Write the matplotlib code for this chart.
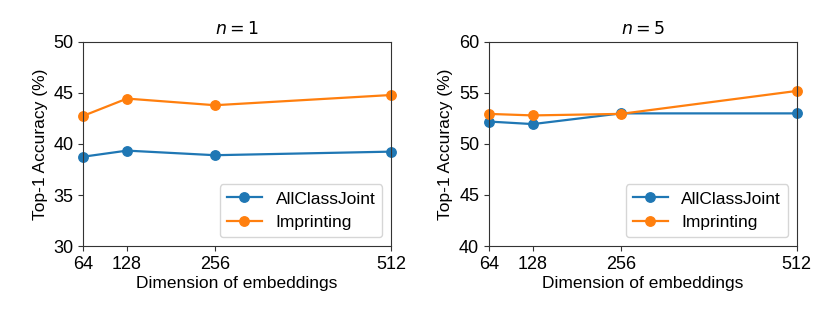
import matplotlib
matplotlib.use("Agg")
import matplotlib.pyplot as plt

dims = [64, 128, 256, 512]
n1_allclass = [38.75, 39.35, 38.9, 39.25]
n1_imprint = [42.75, 44.45, 43.8, 44.8]
n5_allclass = [52.2, 51.95, 53.0, 53.0]
n5_imprint = [52.95, 52.8, 52.95, 55.2]
titles = ["$n=1$", "$n=5$"]
ylims = [(30, 50), (40, 60)]
labels = ["AllClassJoint", "Imprinting"]

plt.rcParams['font.family'] = ['Liberation Sans', 'DejaVu Sans']
plt.rcParams['mathtext.fontset'] = 'dejavusans'
fs = 12.5

fig = plt.figure(figsize=(8.3, 3.12), dpi=100)
axes = [fig.add_axes([0.1, 0.2115, 0.371, 0.654]),
        fig.add_axes([0.589, 0.2115, 0.371, 0.654])]
data = [(n1_allclass, n1_imprint), (n5_allclass, n5_imprint)]
for ax, (a, b), t, yl in zip(axes, data, titles, ylims):
    ax.plot(dims, a, marker='o', color='#1f77b4', lw=1.6, ms=6.8, label=labels[0])
    ax.plot(dims, b, marker='o', color='#ff7f0e', lw=1.6, ms=6.8, label=labels[1])
    ax.set_xlim(64, 512)
    ax.set_ylim(*yl)
    ax.set_xticks(dims)
    ax.set_xticklabels([str(d) for d in dims])
    ax.set_yticks(range(yl[0], yl[1] + 1, 5))
    ax.tick_params(labelsize=13, color='#333333')
    ax.set_title(t, fontsize=fs)
    ax.set_xlabel("Dimension of embeddings", fontsize=fs, labelpad=2)
    ax.set_ylabel("Top-1 Accuracy (%)", fontsize=fs)
    for s in ax.spines.values():
        s.set_clip_on(False)
        s.set_color('#333333')
    for line in ax.lines:
        line.set_clip_on(False)
    ax.legend(loc='lower right', fontsize=fs)

fig.savefig("out.png", dpi=100)
